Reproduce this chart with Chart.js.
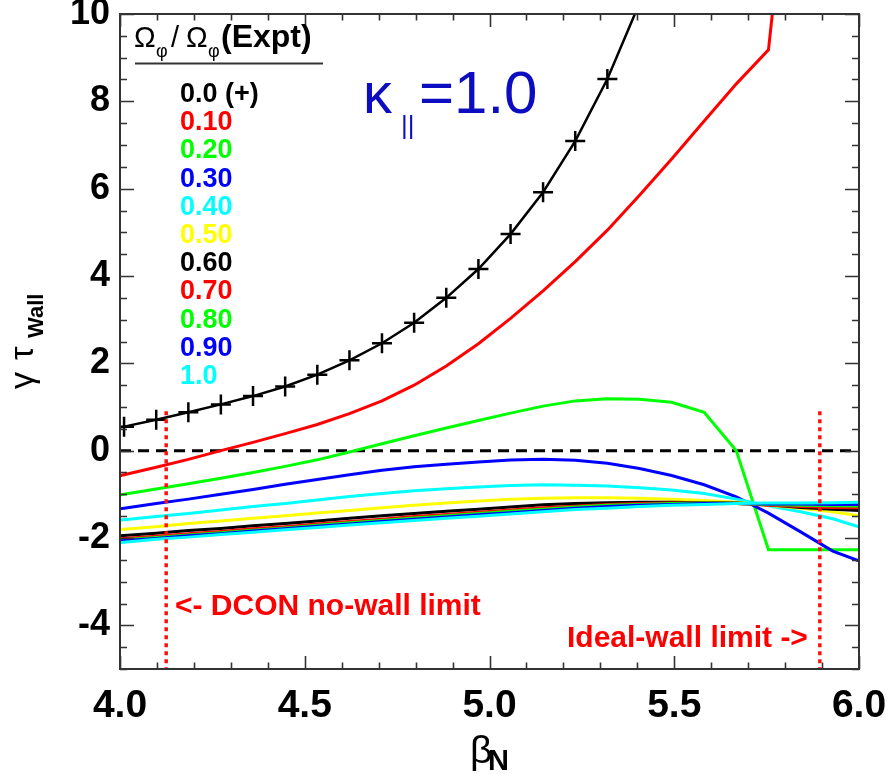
<!DOCTYPE html>
<html><head><meta charset="utf-8">
<script src="https://cdn.jsdelivr.net/npm/chart.js@4.4.1/dist/chart.umd.min.js"></script>
<style>html,body{margin:0;padding:0;background:#fff}canvas{display:block}</style>
</head><body>
<canvas id="c" width="888" height="774"></canvas>
<script>
// ---- data ----
const betaN = [3.924, 4.011, 4.098, 4.185, 4.273, 4.360, 4.447, 4.534, 4.621, 4.709, 4.796, 4.883, 4.970, 5.057, 5.145, 5.232, 5.319, 5.406, 5.493, 5.581, 5.668, 5.755, 5.842, 5.929, 6.017];
const xTickValues = [4.0, 4.5, 5.0, 5.5, 6.0];
const yTickValues = [-4, -2, 0, 2, 4, 6, 8, 10];
const legendLabels = ['0.0 (+)', '0.10', '0.20', '0.30', '0.40', '0.50', '0.60', '0.70', '0.80', '0.90', '1.0'];
const seriesColors = ['#000000', '#ff0000', '#00ff00', '#0000ff', '#00ffff', '#ffff00', '#000000', '#ff0000', '#00ff00', '#0000ff', '#00ffff'];

const rot00 = [0.40, 0.55, 0.71, 0.88, 1.06, 1.25, 1.47, 1.74, 2.07, 2.46, 2.93, 3.50, 4.16, 4.96, 5.92, 7.09, 8.51, 10.25, 12.4, null, null, null, null, null, null];
const rot10 = [-0.72, -0.55, -0.38, -0.20, 0.00, 0.19, 0.39, 0.60, 0.85, 1.14, 1.50, 1.94, 2.45, 3.03, 3.66, 4.33, 5.05, 5.85, 6.68, 7.55, 8.40, 9.18, 16.0, null, null];
const rot20 = [-1.12, -1.00, -0.88, -0.76, -0.63, -0.50, -0.36, -0.21, -0.03, 0.16, 0.34, 0.52, 0.69, 0.86, 1.02, 1.14, 1.19, 1.18, 1.11, 0.88, 0.00, -2.27, -2.27, -2.27, -2.27];
const rot30 = [-1.42, -1.32, -1.21, -1.11, -1.00, -0.89, -0.77, -0.66, -0.55, -0.45, -0.37, -0.31, -0.26, -0.215, -0.195, -0.22, -0.29, -0.41, -0.57, -0.78, -1.06, -1.43, -1.86, -2.30, -2.58];
const rot40 = [-1.65, -1.58, -1.51, -1.44, -1.36, -1.28, -1.21, -1.13, -1.05, -0.98, -0.92, -0.87, -0.83, -0.80, -0.78, -0.79, -0.81, -0.85, -0.90, -0.98, -1.11, -1.26, -1.40, -1.56, -1.79];
const rot50 = [-1.87, -1.80, -1.74, -1.67, -1.61, -1.55, -1.49, -1.43, -1.37, -1.31, -1.25, -1.20, -1.15, -1.11, -1.09, -1.08, -1.08, -1.09, -1.11, -1.14, -1.18, -1.25, -1.32, -1.40, -1.51];
const rot60 = [-1.99, -1.94, -1.89, -1.83, -1.78, -1.72, -1.67, -1.61, -1.55, -1.49, -1.44, -1.39, -1.34, -1.29, -1.24, -1.21, -1.19, -1.18, -1.18, -1.19, -1.20, -1.24, -1.30, -1.34, -1.38];
const rot70 = [-2.07, -2.01, -1.96, -1.90, -1.85, -1.79, -1.74, -1.68, -1.62, -1.57, -1.51, -1.46, -1.41, -1.36, -1.31, -1.27, -1.23, -1.21, -1.20, -1.20, -1.21, -1.25, -1.28, -1.30, -1.31];
const rot80 = [-2.10, -2.04, -1.99, -1.93, -1.88, -1.82, -1.77, -1.71, -1.65, -1.60, -1.54, -1.49, -1.44, -1.39, -1.34, -1.29, -1.25, -1.23, -1.21, -1.20, -1.21, -1.23, -1.25, -1.26, -1.27];
const rot90 = [-2.12, -2.06, -2.01, -1.95, -1.90, -1.84, -1.79, -1.73, -1.68, -1.62, -1.57, -1.52, -1.47, -1.42, -1.37, -1.32, -1.28, -1.25, -1.23, -1.21, -1.21, -1.22, -1.22, -1.23, -1.23];
const rot100 = [-2.16, -2.10, -2.03, -1.98, -1.92, -1.87, -1.81, -1.76, -1.70, -1.65, -1.60, -1.55, -1.50, -1.45, -1.40, -1.35, -1.32, -1.28, -1.25, -1.23, -1.21, -1.20, -1.20, -1.19, -1.18];

const noWallLimit = 4.125;
const idealWallLimit = 5.894;
const limitTop = 0.9;
const yMin = -5, yMax = 10, xMin = 4.0, xMax = 6.0;

// ---- build datasets ----
const FONT = '"Liberation Sans", Arial, Helvetica, sans-serif';
const series = [rot00, rot10, rot20, rot30, rot40, rot50, rot60, rot70, rot80, rot90, rot100];
const datasets = series.map((ys, i) => ({
  label: legendLabels[i],
  data: betaN.map((x, j) => ({x: x, y: ys[j]})),
  borderColor: seriesColors[i],
  backgroundColor: seriesColors[i],
  borderWidth: i === 0 ? 2.5 : 3,
  pointStyle: 'cross',
  pointRadius: i === 0 ? 10 : 0,
  pointBorderWidth: 2.5,
  pointBorderColor: '#000',
  pointHoverRadius: 0,
  fill: false,
  tension: 0,
  spanGaps: false,
  clip: 0,
  order: 20 - i
}));
datasets.push({
  label: 'zero', data: [{x: xMin, y: 0}, {x: xMax, y: 0}],
  borderColor: '#000', borderWidth: 3, borderDash: [11, 7], pointRadius: 0, clip: 0, order: 50
});
[noWallLimit, idealWallLimit].forEach(v => datasets.push({
  label: 'limit', data: [{x: v, y: limitTop}, {x: v, y: yMin}],
  borderColor: '#ff1010', borderWidth: 3.5, borderDash: [4, 4], pointRadius: 0, clip: 0, order: -1
}));

const decor = {
  id: 'decor',
  beforeDraw(chart) {
    const c = chart.ctx;
    c.save(); c.fillStyle = '#fff'; c.fillRect(0, 0, chart.width, chart.height); c.restore();
  },
  afterDatasetsDraw(chart) {
    const c = chart.ctx, a = chart.chartArea, xs = chart.scales.x, ys = chart.scales.y;
    c.save();
    c.strokeStyle = '#333'; c.lineWidth = 1.6;
    for (let k = 40; k <= 60; k++) {
      const px = Math.round(xs.getPixelForValue(k / 10)) + 0.5;
      const len = (k % 5 === 0) ? 13 : 6.5;
      c.beginPath(); c.moveTo(px, a.bottom); c.lineTo(px, a.bottom - len);
      c.moveTo(px, a.top); c.lineTo(px, a.top + len); c.stroke();
    }
    for (let k = -10; k <= 20; k++) {
      const py = Math.round(ys.getPixelForValue(k / 2)) + 0.5;
      const len = (k % 4 === 0) ? 14 : 7;
      c.beginPath(); c.moveTo(a.left, py); c.lineTo(a.left + len, py);
      c.moveTo(a.right, py); c.lineTo(a.right - len, py); c.stroke();
    }
    c.lineWidth = 2; c.strokeStyle = '#333';
    c.strokeRect(a.left, a.top, a.right - a.left, a.bottom - a.top);
    c.restore();
  },
  afterDraw(chart) {
    const c = chart.ctx;
    c.save();
    c.textBaseline = 'alphabetic'; c.textAlign = 'left';
    // legend header
    c.fillStyle = '#000';
    c.font = '29px ' + FONT; c.fillText('\u03A9', 134, 47);
    c.font = '18px ' + FONT; c.fillText('\u03C6', 156, 57);
    c.font = '29px ' + FONT; c.fillText('/', 171, 47);
    c.font = '29px ' + FONT; c.fillText('\u03A9', 186, 47);
    c.font = '18px ' + FONT; c.fillText('\u03C6', 208, 57);
    c.font = 'bold 32px ' + FONT; c.fillText('(Expt)', 221, 47);
    c.strokeStyle = '#333'; c.lineWidth = 2;
    c.beginPath(); c.moveTo(135, 63.5); c.lineTo(323, 63.5); c.stroke();
    // legend entries
    c.font = 'bold 27px ' + FONT;
    legendLabels.forEach((t, i) => { c.fillStyle = seriesColors[i]; c.fillText(t, 180, 102 + 28.2 * i); });
    // kappa label
    c.fillStyle = '#0c0cc0';
    c.font = '58px ' + FONT; c.fillText('\u03BA', 363, 113);
    c.font = '26px ' + FONT; c.fillText('||', 401, 134);
    c.font = '60px ' + FONT; c.fillText('=1.0', 419, 113);
    // limit annotations
    c.fillStyle = '#ff0000';
    c.font = 'bold 30px ' + FONT;
    c.fillText('<- DCON no-wall limit', 175, 615);
    c.fillText('Ideal-wall limit ->', 567, 647);
    // x axis title
    c.fillStyle = '#000';
    c.font = '39px ' + FONT; c.fillText('\u03B2', 470, 763);
    c.font = 'bold 29px ' + FONT; c.fillText('N', 488, 770);
    // y axis title (rotated)
    const rt = (txt, font, x, y) => { c.save(); c.translate(x, y); c.rotate(-Math.PI / 2); c.font = font; c.fillText(txt, 0, 0); c.restore(); };
    rt('\u03B3', '34px ' + FONT, 33, 389);
    rt('\u03C4', '34px ' + FONT, 33, 360);
    rt('Wall', 'bold 22px ' + FONT, 43, 338);
    c.restore();
  }
};

new Chart(document.getElementById('c'), {
  type: 'line',
  data: {datasets: datasets},
  options: {
    responsive: false, animation: false, devicePixelRatio: 1,
    layout: {padding: {top: 14, right: 29, left: 0, bottom: 0}},
    plugins: {legend: {display: false}, tooltip: {enabled: false}},
    scales: {
      x: {
        type: 'linear', min: xMin, max: xMax, position: 'bottom',
        grid: {display: false, drawTicks: false}, border: {display: false},
        afterBuildTicks: s => { s.ticks = xTickValues.map(v => ({value: v})); },
        afterFit: s => { s.height = 105; s.paddingLeft = 0; s.paddingRight = 0; },
        ticks: {color: '#000', font: {family: FONT, size: 39, weight: 'bold'}, padding: 14, maxRotation: 0, autoSkip: false,
          callback: v => Number(v).toFixed(1)}
      },
      y: {
        type: 'linear', min: yMin, max: yMax,
        grid: {display: false, drawTicks: false}, border: {display: false},
        afterBuildTicks: s => { s.ticks = yTickValues.map(v => ({value: v})); },
        afterFit: s => { s.width = 120; s.paddingTop = 0; s.paddingBottom = 0; },
        ticks: {color: '#000', font: {family: FONT, size: 36, weight: 'bold'}, padding: 10, autoSkip: false,
          callback: v => String(v)}
      }
    }
  },
  plugins: [decor]
});
</script>
</body></html>
